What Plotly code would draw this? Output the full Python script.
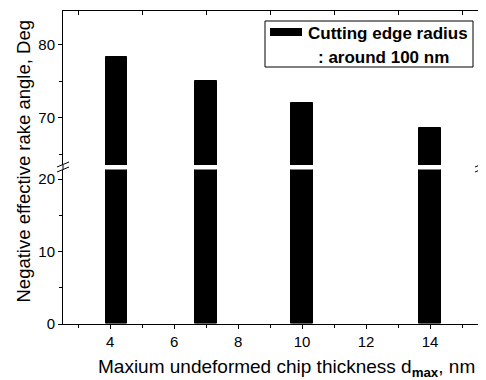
import plotly.graph_objects as go

# ---- data ----
chip_thickness = [4.2, 7, 10, 14]
rake_angle = [78.3, 75.0, 72.0, 68.6]
series_name = "Cutting edge radius"
series_note = ": around 100 nm"
x_ticks = [4, 6, 8, 10, 12, 14]

OFF = 8  # page body margin
W, H = 486 - OFF, 380 - OFF
# plot area in screen pixels: x 63..481, y 11..324
L, T = 63 - OFF, 11 - OFF
PW, PH = 481 - 63, 324 - 11
R = W - L - PW
B = H - T - PH

def px(xs):
    return (xs - OFF - L) / PW

def py(ys):
    return (T + PH - (ys - OFF)) / PH

FONT = "Liberation Sans, Arial, sans-serif"

low_top = py(169.6)
up_bot = py(165)

fig = go.Figure()
fig.add_trace(go.Bar(x=chip_thickness, y=rake_angle, width=0.67, xaxis="x", yaxis="y",
                     marker=dict(color="black", line=dict(color="black", width=1)),
                     name=series_name, showlegend=False))
fig.add_trace(go.Bar(x=chip_thickness, y=rake_angle, width=0.67, xaxis="x2", yaxis="y2",
                     marker=dict(color="black", line=dict(color="black", width=1)),
                     name=series_name, showlegend=False))

axis_common = dict(showline=True, linecolor="black", linewidth=1, showgrid=False, zeroline=False,
                   tickfont=dict(family=FONT, size=15, color="black"), tickcolor="black")

fig.update_layout(
    width=W, height=H,
    margin=dict(l=L, r=R, t=T, b=B, pad=0),
    paper_bgcolor="white", plot_bgcolor="white",
    bargap=0,
    xaxis=dict(range=[2.53, 15.59], anchor="y", side="bottom", tickvals=x_ticks,
               ticks="outside", ticklen=4, minor=dict(dtick=1, tick0=0, ticks="outside", ticklen=3, tickcolor="black"),
               **axis_common),
    xaxis2=dict(range=[2.53, 15.59], anchor="y2", side="top", matches="x", tickvals=[3, 5, 7, 9, 11, 13, 15],
                ticks="inside", ticklen=4, showticklabels=False, **axis_common),
    yaxis=dict(domain=[0, low_top], range=[0, 21.3], anchor="x", tick0=0, dtick=10,
               ticks="outside", ticklen=4, mirror=True,
               minor=dict(dtick=5, tick0=0, ticks="outside", ticklen=3, tickcolor="black"),
               **axis_common),
    yaxis2=dict(domain=[up_bot, 1], range=[63.5, 84.6], anchor="x2", tick0=0, dtick=10,
                ticks="outside", ticklen=4, mirror=True,
                minor=dict(dtick=5, tick0=0, ticks="outside", ticklen=3, tickcolor="black"),
                **axis_common),
)

shapes = []
# break marks on left and right axes
for xc in (63, 481):
    for yc in (164.5, 169.5):
        shapes.append(dict(type="line", xref="paper", yref="paper",
                           x0=px(xc - 6), y0=py(yc + 2.5), x1=px(xc + 6), y1=py(yc - 2.5),
                           line=dict(color="black", width=1)))
    shapes.append(dict(type="line", xref="paper", yref="paper",
                       x0=px(xc), y0=py(169.6), x1=px(xc), y1=py(165),
                       line=dict(color="black", width=1)))
# legend box and symbol
shapes.append(dict(type="rect", xref="paper", yref="paper",
                   x0=px(265), x1=px(473), y0=py(67), y1=py(21),
                   line=dict(color="black", width=1), fillcolor="white", layer="below"))
shapes.append(dict(type="rect", xref="paper", yref="paper",
                   x0=px(270), x1=px(302), y0=py(36), y1=py(28),
                   line=dict(color="black", width=0), fillcolor="black"))

annotations = [
    dict(text="<b>" + series_name + "</b>", xref="paper", yref="paper", x=px(306), y=py(34),
         xanchor="left", yanchor="middle", showarrow=False,
         font=dict(family=FONT, size=17, color="black")),
    dict(text="<b>" + series_note + "</b>", xref="paper", yref="paper", x=px(316), y=py(57),
         xanchor="left", yanchor="middle", showarrow=False,
         font=dict(family=FONT, size=17, color="black")),
    dict(text="Negative effective rake angle, Deg", xref="paper", yref="paper",
         x=px(23), y=py(161.5), textangle=-90, xanchor="center", yanchor="middle", showarrow=False,
         font=dict(family=FONT, size=18.5, color="black")),
    dict(text="Maxium undeformed chip thickness d<sub><b>max</b></sub>, nm", xref="paper", yref="paper",
         x=px(286), y=py(368), xanchor="center", yanchor="middle", showarrow=False,
         font=dict(family=FONT, size=19, color="black")),
]

fig.update_layout(shapes=shapes, annotations=annotations)
fig.write_html("out.html")
